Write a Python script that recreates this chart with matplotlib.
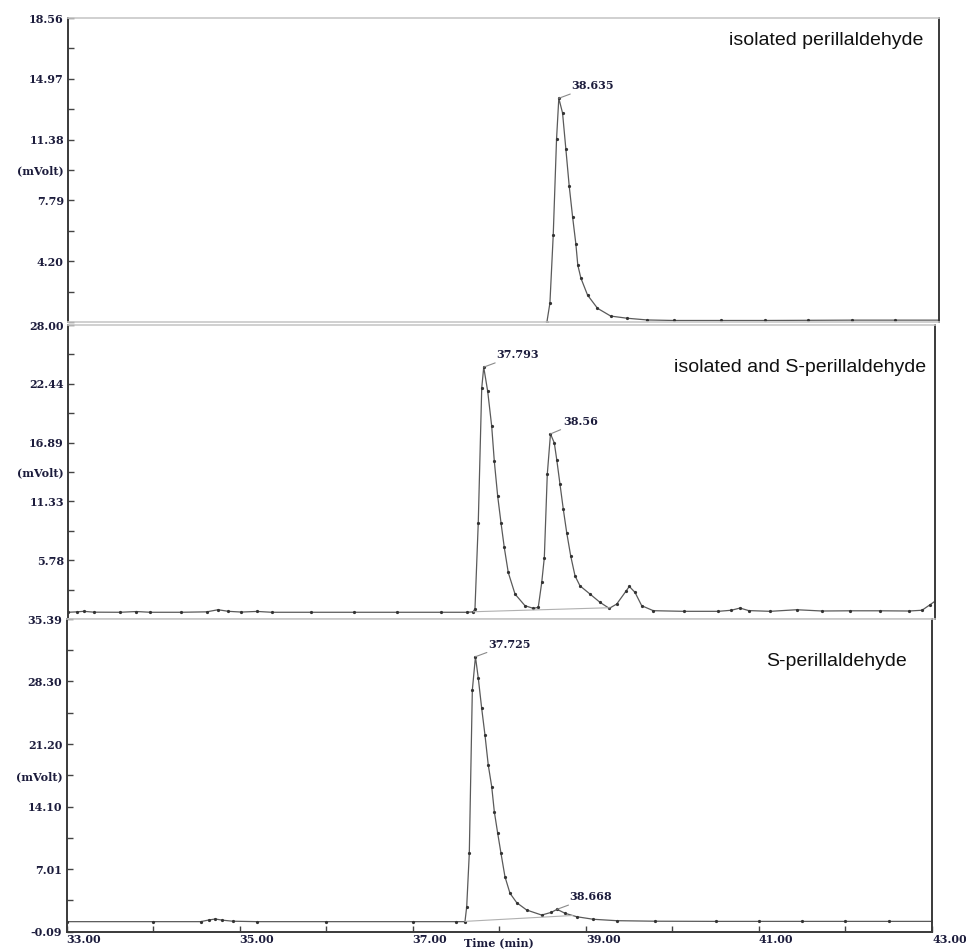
import matplotlib
matplotlib.use("Agg")
import matplotlib.pyplot as plt

W, H = 966, 949

# ---- data (time in min, signal in mVolt)
t_iso = [33.0, 35.0, 37.0, 38.30, 38.498, 38.533, 38.571, 38.609, 38.635, 38.678,
         38.716, 38.754, 38.793, 38.831, 38.853, 38.888, 38.965, 39.079, 39.231,
         39.423, 39.652, 39.953, 40.5, 41.0, 41.5, 42.0, 42.5, 43.0]
v_iso = [0.45, 0.45, 0.45, 0.45, 0.60, 1.73, 5.75, 11.41, 13.82, 12.95,
         10.82, 8.66, 6.83, 5.21, 3.97, 3.21, 2.20, 1.42, 0.96,
         0.83, 0.73, 0.70, 0.70, 0.70, 0.71, 0.72, 0.72, 0.72]

t_mix = [33.0, 33.1, 33.18, 33.3, 33.6, 33.79, 33.95, 34.3, 34.6, 34.73, 34.85, 35.0,
         35.18, 35.35, 35.8, 36.3, 36.8, 37.3, 37.6, 37.671, 37.694, 37.732, 37.772,
         37.795, 37.841, 37.887, 37.917, 37.956, 37.994, 38.032, 38.078, 38.156,
         38.271, 38.367, 38.424, 38.464, 38.494, 38.528, 38.565, 38.609, 38.637,
         38.675, 38.713, 38.752, 38.798, 38.848, 38.905, 39.021, 39.136, 39.243,
         39.329, 39.439, 39.474, 39.540, 39.617, 39.751, 40.1, 40.5, 40.65, 40.751,
         40.85, 41.1, 41.405, 41.7, 42.02, 42.365, 42.7, 42.85, 42.942, 43.0]
v_mix = [0.86, 0.90, 0.95, 0.87, 0.86, 0.93, 0.86, 0.86, 0.90, 1.10, 0.95, 0.88,
         0.94, 0.86, 0.86, 0.86, 0.86, 0.86, 0.86, 0.90, 1.17, 9.33, 22.04,
         24.02, 21.72, 18.43, 15.13, 11.83, 9.33, 6.98, 4.62, 2.58,
         1.48, 1.23, 1.33, 3.68, 6.03, 13.88, 17.71, 16.86, 15.29,
         12.94, 10.58, 8.39, 6.19, 4.30, 3.36, 2.58, 1.80, 1.23,
         1.64, 2.89, 3.30, 2.74, 1.48, 1.01, 0.95, 0.95, 1.05, 1.26,
         1.02, 0.95, 1.10, 0.98, 1.00, 1.00, 0.98, 1.05, 1.57, 1.90]

t_s = [33.0, 34.0, 34.55, 34.65, 34.72, 34.8, 34.92, 35.2, 36.0, 37.0, 37.5, 37.604,
       37.624, 37.654, 37.689, 37.725, 37.758, 37.797, 37.835, 37.873, 37.913, 37.943,
       37.982, 38.020, 38.066, 38.124, 38.202, 38.317, 38.490, 38.60, 38.668, 38.76,
       38.895, 39.087, 39.357, 39.8, 40.5, 41.0, 41.5, 42.0, 42.5, 43.0]
v_s = [1.05, 1.05, 1.05, 1.25, 1.35, 1.22, 1.10, 1.05, 1.05, 1.05, 1.05, 1.05,
       2.75, 8.81, 27.33, 31.11, 28.66, 25.26, 22.23, 18.82, 16.36, 13.53,
       11.08, 8.81, 6.15, 4.27, 3.20, 2.37, 1.80, 2.10, 2.45, 2.00,
       1.61, 1.32, 1.16, 1.10, 1.08, 1.08, 1.08, 1.08, 1.08, 1.08]

# integration baselines
base_mix_t = [37.675, 39.251]
base_mix_v = [0.91, 1.29]
base_s_t = [37.604, 38.85]
base_s_v = [1.08, 1.75]

# labelled peaks
peaks_iso = [(38.635, 13.82, "38.635")]
peaks_mix = [(37.795, 24.02, "37.793"), (38.565, 17.71, "38.56")]
peaks_s = [(37.725, 31.11, "37.725"), (38.668, 2.45, "38.668")]

# axis ticks
yticks_iso = [0.61, 2.405, 4.20, 5.995, 7.79, 9.585, 11.38, 13.175, 14.97, 16.765, 18.56]
ylabels_iso = ["", "", "4.20", "", "7.79", "(mVolt)", "11.38", "", "14.97", "", "18.56"]
yticks_mix = [0.225, 3.0, 5.78, 8.555, 11.33, 14.11, 16.89, 19.665, 22.44, 25.22, 28.00]
ylabels_mix = ["", "", "5.78", "", "11.33", "(mVolt)", "16.89", "", "22.44", "", "28.00"]
yticks_s = [-0.09, 3.46, 7.01, 10.555, 14.10, 17.65, 21.20, 24.75, 28.30, 31.845, 35.39]
ylabels_s = ["-0.09", "", "7.01", "", "14.10", "(mVolt)", "21.20", "", "28.30", "", "35.39"]
xticks = [33, 34, 35, 36, 37, 38, 39, 40, 41, 42, 43]
xlabels = ["33.00", "", "35.00", "", "37.00", "", "39.00", "", "41.00", "", "43.00"]

titles = ["isolated perillaldehyde", "isolated and S-perillaldehyde", "S-perillaldehyde"]

tick_font = dict(family="DejaVu Serif", weight="bold", size=8, color="#1c1c3c")
line_col = "#5a5a5a"


def box(l, r, t, b):
    return [l / W, 1 - b / H, (r - l) / W, (b - t) / H]


fig = plt.figure(figsize=(W / 100, H / 100), dpi=100)
ax1 = fig.add_axes(box(68, 939, 18, 322))
ax2 = fig.add_axes(box(68, 935, 325, 619))
ax3 = fig.add_axes(box(66.5, 932, 619, 931.7))

panels = [
    (ax1, t_iso, v_iso, None, None, peaks_iso, yticks_iso, ylabels_iso),
    (ax2, t_mix, v_mix, base_mix_t, base_mix_v, peaks_mix, yticks_mix, ylabels_mix),
    (ax3, t_s, v_s, base_s_t, base_s_v, peaks_s, yticks_s, ylabels_s),
]

for ax, t, v, bt, bv, peaks, yt, yl in panels:
    ax.plot(t, v, color=line_col, lw=0.9, marker="o", ms=1.3, mfc="#333333",
            mec="#333333")
    if bt is not None:
        ax.plot(bt, bv, color="#b0b0b0", lw=0.8)
    for pt, pv, lab in peaks:
        ax.annotate(lab, xy=(pt, pv), xytext=(9, 9), textcoords="offset points",
                    ha="left", va="center", **tick_font,
                    arrowprops=dict(arrowstyle="-", color="#8a8a8a", lw=0.8,
                                    shrinkA=0, shrinkB=0))
    ax.set_xlim(33, 43)
    ax.set_ylim(yt[0], yt[-1])
    ax.set_yticks(yt)
    ax.set_yticklabels(yl, **tick_font)
    ax.tick_params(axis="y", direction="in", length=4, width=1, color="#444444", pad=3)
    for s in ["top", "bottom"]:
        ax.spines[s].set_color("#c8c8c8")
        ax.spines[s].set_linewidth(1.2)
    for s in ["left", "right"]:
        ax.spines[s].set_color("#3a3a3a")
        ax.spines[s].set_linewidth(1.4)

for ax in (ax1, ax2):
    ax.set_xticks([])

ax3.spines["bottom"].set_color("#3a3a3a")
ax3.spines["bottom"].set_linewidth(1.4)
ax3.set_xticks(xticks)
ax3.set_xticklabels(xlabels, ha="left", **tick_font)
ax3.tick_params(axis="x", direction="in", length=4, width=1, color="#444444", pad=2)

fig.text(499 / W, 1 - 943 / H, "Time (min)", ha="center", va="center",
         family="DejaVu Serif", weight="bold", size=8, color="#1c1c3c")

fig.text(923 / W, 1 - 45 / H, titles[0], ha="right", va="baseline",
         family="Liberation Sans", size=14, color="#111111")
fig.text(926 / W, 1 - 372 / H, titles[1], ha="right", va="baseline",
         family="Liberation Sans", size=14, color="#111111")
fig.text(907 / W, 1 - 666 / H, titles[2], ha="right", va="baseline",
         family="Liberation Sans", size=14, color="#111111")

fig.savefig("out.png", dpi=100)
